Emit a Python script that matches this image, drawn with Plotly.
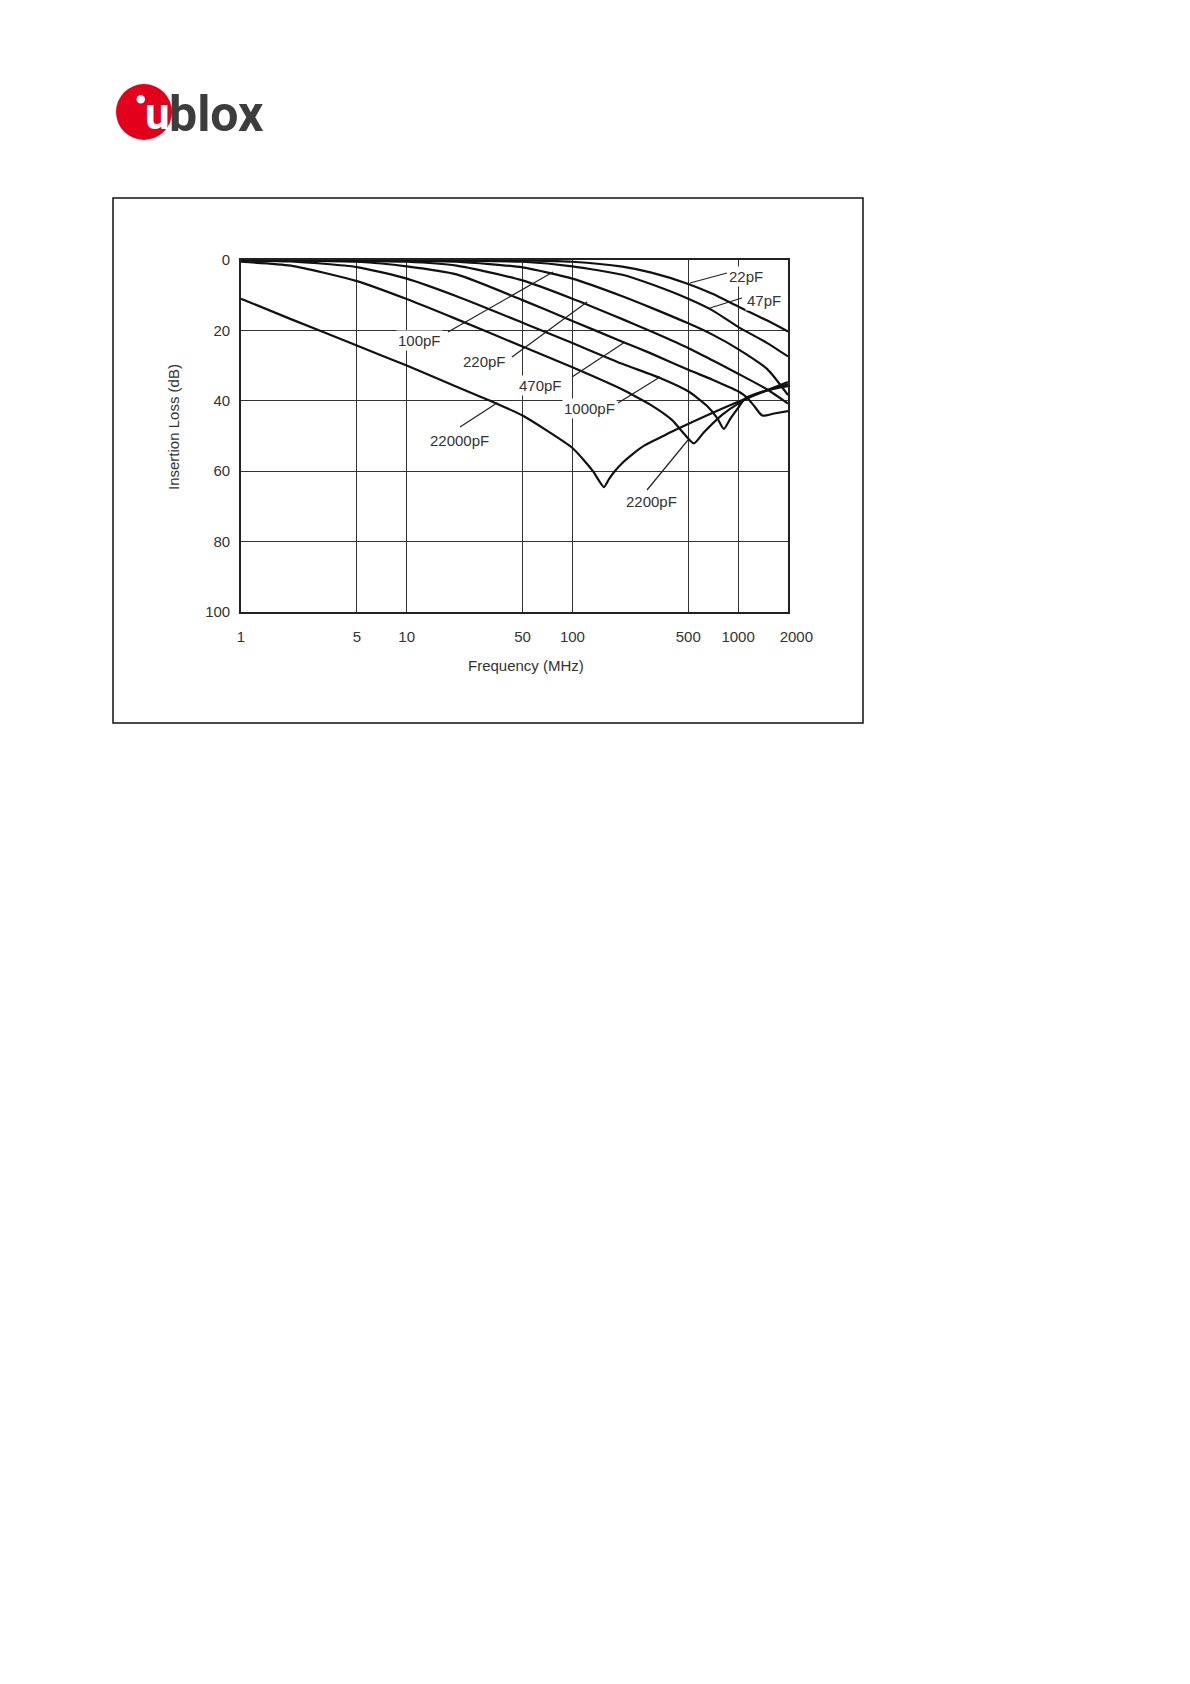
import plotly.graph_objects as go
import math

# ---------------- data ----------------
freq_ticks = [1, 5, 10, 50, 100, 500, 1000, 2000]
freq_tick_labels = ["1", "5", "10", "50", "100", "500", "1000", "\u00a0\u00a0\u00a0\u00a02000"]
loss_ticks = [0, 20, 40, 60, 80, 100]

c22_f = [1, 10, 50, 100, 200, 300, 500, 700, 1000, 1500, 2000]
c22_v = [0.0, 0.0, 0.1, 0.5, 1.9, 3.6, 6.8, 9.6, 13.2, 17.2, 20.3]

c47_f = [1, 10, 50, 100, 200, 300, 500, 700, 1000, 1500, 2000]
c47_v = [0.0, 0.1, 0.5, 1.8, 4.2, 6.9, 11.0, 14.3, 19.0, 23.6, 27.4]

c100_f = [1, 10, 20, 50, 100, 200, 300, 500, 700, 1000, 1500, 2000]
c100_v = [0.0, 0.2, 0.5, 2.1, 5.3, 10.3, 13.6, 18.0, 21.2, 25.3, 31.0, 38.4]

c220_f = [1, 10, 20, 50, 100, 200, 300, 500, 700, 1000, 1500, 2000]
c220_v = [0.0, 0.5, 1.6, 5.8, 11.0, 16.8, 20.3, 25.0, 28.5, 32.3, 36.8, 40.8]

c470_f = [1, 5, 10, 20, 50, 100, 200, 300, 500, 700, 1000, 1127, 1250, 1400, 1650, 2000]
c470_v = [0.0, 0.5, 1.8, 4.1, 11.4, 17.3, 23.2, 26.6, 31.2, 34.0, 37.3, 39.0, 41.5, 44.2, 43.6, 42.9]

c1000_f = [1, 2, 5, 10, 20, 50, 100, 200, 338, 500, 650, 750, 820, 900, 1000, 1100, 1500, 2000]
c1000_v = [0.1, 0.4, 2.0, 5.3, 10.3, 17.8, 23.6, 29.5, 33.5, 37.3, 41.5, 45.0, 48.0, 45.0, 42.0, 39.4, 37.0, 35.8]

c2200_f = [1, 2, 5, 10, 20, 50, 100, 200, 228, 300, 400, 470, 540, 620, 800, 1000, 1300, 2000]
c2200_v = [0.5, 1.6, 6.0, 11.1, 16.8, 24.6, 30.5, 36.8, 38.2, 41.3, 45.5, 49.3, 52.1, 49.0, 44.0, 40.8, 38.0, 35.3]

c22000_f = [1, 2, 5, 10, 20, 35, 50, 100, 122, 134, 155, 165, 178, 203, 230, 274, 350, 436, 1000, 2000]
c22000_v = [11.0, 16.8, 24.3, 30.0, 36.0, 40.8, 44.2, 53.4, 57.8, 60.2, 64.5, 62.5, 60.3, 57.4, 55.2, 52.6, 50.1, 47.9, 40.3, 34.7]

curves = [
    ("22pF", c22_f, c22_v),
    ("47pF", c47_f, c47_v),
    ("100pF", c100_f, c100_v),
    ("220pF", c220_f, c220_v),
    ("470pF", c470_f, c470_v),
    ("1000pF", c1000_f, c1000_v),
    ("2200pF", c2200_f, c2200_v),
    ("22000pF", c22000_f, c22000_v),
]

# ---------------- layout geometry (page pixels) ----------------
W, H = 1190, 1684
OFF = 8  # page body margin
PL, PR, PT, PB = 241, 788, 260, 612


def P(px, py):
    return (px - PL) / (PR - PL), (PB - py) / (PB - PT)


FONT = "Liberation Sans, Arial, sans-serif"
TXT = "#333333"

fig = go.Figure()
for name, f, v in curves:
    fig.add_trace(go.Scatter(
        x=f, y=v, mode="lines", name=name,
        line=dict(color="#111111", width=2.2, shape="spline", smoothing=0.6),
        showlegend=False, hoverinfo="skip"))

shapes = []
# outer frame
x0, y0 = P(113, 198)
x1, y1 = P(863, 723)
shapes.append(dict(type="rect", xref="paper", yref="paper", x0=x0, y0=y0, x1=x1, y1=y1,
                   line=dict(color="#111111", width=1.5), fillcolor="rgba(0,0,0,0)"))

# logo: red circle + white dot
cx0, cy0 = P(116, 84)
cx1, cy1 = P(172, 140)
shapes.append(dict(type="circle", xref="paper", yref="paper", x0=cx0, y0=cy0, x1=cx1, y1=cy1,
                   line=dict(width=0), fillcolor="#e2001a"))
dx0, dy0 = P(136.5, 95)
dx1, dy1 = P(145, 103.5)
shapes.append(dict(type="circle", xref="paper", yref="paper", x0=dx0, y0=dy0, x1=dx1, y1=dy1,
                   line=dict(width=0), fillcolor="white"))

# leader lines for curve labels
leaders = [
    ((448, 332), (553, 272)),
    ((512, 357), (587, 302)),
    ((572, 377), (625, 342)),
    ((618, 403), (660, 377)),
    ((647, 490), (688, 440)),
    ((460, 427), (497, 403)),
    ((727, 273), (690, 283)),
    ((742, 298), (710, 308)),
]
for (a, b) in leaders:
    ax_, ay_ = P(*a)
    bx_, by_ = P(*b)
    shapes.append(dict(type="line", xref="paper", yref="paper", x0=ax_, y0=ay_, x1=bx_, y1=by_,
                       line=dict(color="#222222", width=1.2)))

annotations = []
labels = [
    ("100pF", 419, 340),
    ("220pF", 484, 361.5),
    ("470pF", 540.5, 385),
    ("1000pF", 589, 408),
    ("22000pF", 459.5, 440),
    ("2200pF", 651.5, 501.5),
    ("22pF", 746, 276.5),
    ("47pF", 764, 300),
]
for t, px, py in labels:
    ax_, ay_ = P(px, py)
    annotations.append(dict(text=t, x=ax_, y=ay_, xref="paper", yref="paper",
                            showarrow=False, xanchor="center", yanchor="middle",
                            font=dict(family=FONT, size=15, color=TXT),
                            bgcolor="white", borderpad=1))

# axis titles
tx, ty = P(526, 665)
annotations.append(dict(text="Frequency (MHz)", x=tx, y=ty, xref="paper", yref="paper",
                        showarrow=False, xanchor="center", yanchor="middle",
                        font=dict(family=FONT, size=15, color=TXT)))
tx, ty = P(173, 427)
annotations.append(dict(text="Insertion Loss (dB)", x=tx, y=ty, xref="paper", yref="paper",
                        showarrow=False, xanchor="center", yanchor="middle", textangle=-90,
                        font=dict(family=FONT, size=15, color=TXT)))

# logo text
ux, uy = P(157, 114)
annotations.append(dict(text="<b>u</b>", x=ux, y=uy, xref="paper", yref="paper",
                        showarrow=False, xanchor="center", yanchor="middle",
                        font=dict(family="Roboto, Liberation Sans, sans-serif", size=44, color="white")))
bx, by = P(167, 114)
annotations.append(dict(text="<b>blox</b>", x=bx, y=by, xref="paper", yref="paper",
                        showarrow=False, xanchor="left", yanchor="middle",
                        font=dict(family="Roboto, Liberation Sans, sans-serif", size=50, color="#3d3d3d")))

fig.update_layout(
    width=W, height=H,
    margin=dict(l=PL - OFF, r=W - (PR - OFF), t=PT - OFF, b=H - (PB - OFF), pad=0),
    paper_bgcolor="white", plot_bgcolor="white",
    shapes=shapes, annotations=annotations,
    xaxis=dict(type="log", range=[0, math.log10(2000)],
               tickvals=freq_ticks, ticktext=freq_tick_labels,
               showgrid=True, gridcolor="#333333", gridwidth=1.3,
               showline=True, mirror=True, linecolor="#222222", linewidth=1.6,
               ticks="", ticklabelstandoff=10, zeroline=False,
               tickfont=dict(family=FONT, size=15, color=TXT)),
    yaxis=dict(range=[100, 0], tickvals=loss_ticks,
               showgrid=True, gridcolor="#333333", gridwidth=1.3,
               showline=True, mirror=True, linecolor="#222222", linewidth=1.6,
               ticks="", ticklabelstandoff=6, zeroline=False,
               tickfont=dict(family=FONT, size=15, color=TXT)),
)

fig.write_html("out.html")
